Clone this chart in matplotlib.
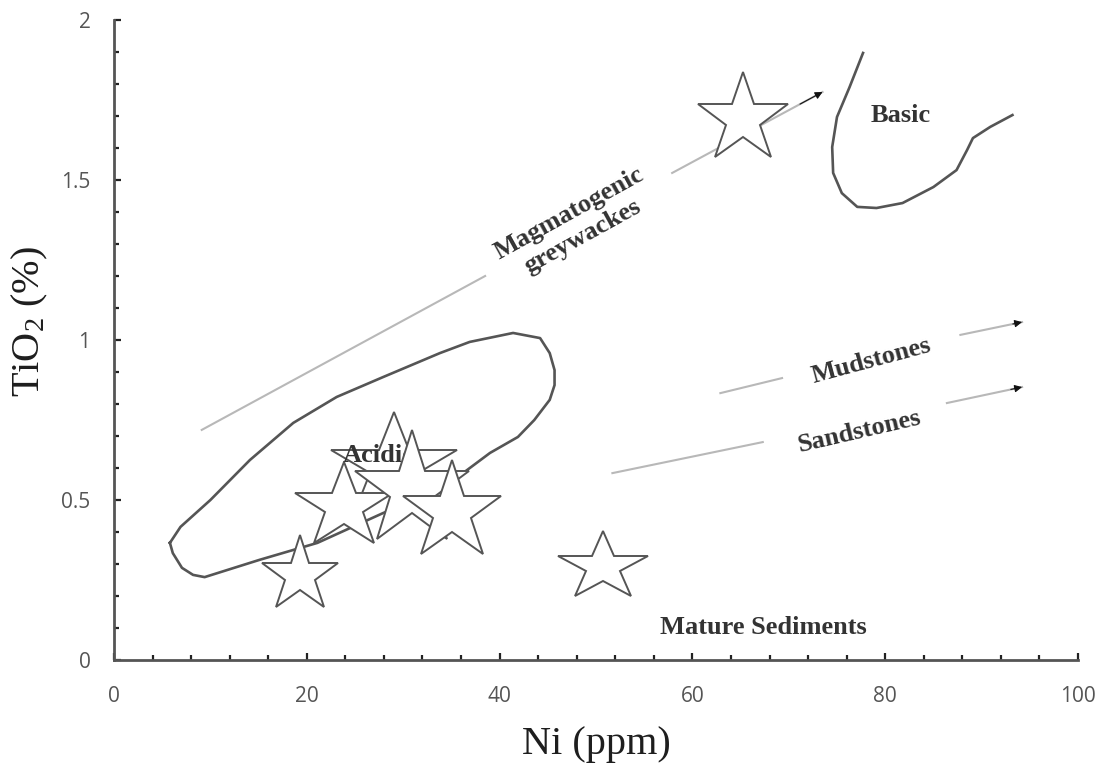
import matplotlib
matplotlib.use("Agg")
import matplotlib.pyplot as plt
from matplotlib.markers import MarkerStyle
from matplotlib.transforms import Affine2D
from matplotlib.ticker import MultipleLocator

# samples plotted as stars (Ni ppm, TiO2 %)
ni_samples = [65.2, 50.7, 19.3, 29.0, 30.9, 23.9, 35.1]
tio2_samples = [1.69, 0.29, 0.266, 0.603, 0.53, 0.478, 0.4625]

# field boundaries
acid_ni = [5.8, 6.1, 7.05, 8.2, 9.4, 15.1, 21.1, 27.9, 33.1, 36.2, 39.0, 41.9,
           43.6, 45.2, 45.7, 45.7, 45.2, 44.2, 41.4, 36.9, 33.8, 27.9, 23.1,
           18.6, 14.1, 10.0, 6.9, 5.8]
acid_ti = [0.366, 0.334, 0.288, 0.266, 0.259, 0.313, 0.366, 0.459, 0.522,
           0.584, 0.647, 0.697, 0.75, 0.813, 0.859, 0.906, 0.959, 1.006,
           1.022, 0.994, 0.959, 0.884, 0.822, 0.741, 0.625, 0.50, 0.416, 0.366]
basic_ni = [77.7, 76.3, 75.0, 74.5, 74.6, 75.5, 77.1, 79.1, 81.8, 85.0, 87.4,
            88.5, 89.1, 90.9, 93.2]
basic_ti = [1.897, 1.79, 1.697, 1.603, 1.522, 1.459, 1.416, 1.4125, 1.428,
            1.478, 1.531, 1.594, 1.631, 1.666, 1.703]

# trend arrows: (start, gap start), (gap end, tip)
magma_ni = [9.1, 38.5, 57.9, 73.5]
magma_ti = [0.719, 1.2, 1.522, 1.775]
mud_ni = [62.9, 69.3, 87.8, 94.2]
mud_ti = [0.834, 0.881, 1.016, 1.056]
sand_ni = [51.7, 67.3, 86.4, 94.2]
sand_ti = [0.584, 0.681, 0.803, 0.853]

# star outer radius in pixels and horizontal stretch
star_r = [47, 36, 40, 55, 60, 45, 52]
star_sx = [1.0, 1.3, 1.0, 1.2, 1.0, 1.15, 1.0]
star_order = [0, 1, 2, 3, 5, 4, 6]

SERIF = "Liberation Serif"
plt.rcParams["mathtext.default"] = "regular"

fig = plt.figure(figsize=(10.99, 7.68), dpi=100)
ax = fig.add_axes([114 / 1099, 108 / 768, 964 / 1099, 640 / 768])
ax.set_xlim(0, 100)
ax.set_ylim(0, 2)

for side in ("top", "right"):
    ax.spines[side].set_visible(False)
for side in ("left", "bottom"):
    ax.spines[side].set_color("#555555")
    ax.spines[side].set_linewidth(2.0)

ax.xaxis.set_major_locator(MultipleLocator(20))
ax.xaxis.set_minor_locator(MultipleLocator(4))
ax.yaxis.set_major_locator(MultipleLocator(0.5))
ax.yaxis.set_minor_locator(MultipleLocator(0.1))
ax.yaxis.set_major_formatter(plt.FuncFormatter(lambda v, p: "{:g}".format(v)))
ax.tick_params(which="both", direction="in", color="#222222", width=1.6)
ax.tick_params(which="major", length=5)
ax.tick_params(which="minor", length=3.5)
ax.tick_params(axis="x", which="major", pad=19)
ax.tick_params(axis="y", which="major", pad=17)
for lab in ax.get_xticklabels() + ax.get_yticklabels():
    lab.set_fontfamily("Open Sans")
    lab.set_fontsize(15)
    lab.set_color("#555555")

ax.set_xlabel("Ni (ppm)", fontsize=29, family=SERIF, color="#1e1e1e")
ax.xaxis.set_label_coords(0.5, -0.103)
ax.set_ylabel("TiO$_2$ (%)", fontsize=29, family=SERIF, color="#1e1e1e")
ax.yaxis.set_label_coords(-0.066, 0.528)

# field outlines
ax.plot(acid_ni, acid_ti, color="#555555", lw=1.9, zorder=2)
ax.plot(basic_ni, basic_ti, color="#555555", lw=1.9, zorder=2)

# trend arrows
for xs, ys in ((magma_ni, magma_ti), (mud_ni, mud_ti), (sand_ni, sand_ti)):
    ax.plot(xs[:2], ys[:2], color="#b8b8b8", lw=1.5, zorder=1)
    ax.plot(xs[2:], ys[2:], color="#b8b8b8", lw=1.5, zorder=1)
    ax.annotate("", xy=(xs[3], ys[3]),
                xytext=(xs[3] - (xs[3] - xs[2]) * 0.15,
                        ys[3] - (ys[3] - ys[2]) * 0.15),
                arrowprops=dict(arrowstyle="-|>", color="#111111", lw=0.8,
                                mutation_scale=11, shrinkA=0, shrinkB=0),
                zorder=3)

txt = dict(family=SERIF, fontsize=19, color="#333333", fontweight="bold")
ax.text(47.9, 1.36, "Magmatogenic\ngreywackes", rotation=29,
        rotation_mode="anchor", ha="center", va="center",
        multialignment="center", linespacing=1.2, **txt)
ax.text(78.5, 0.934, "Mudstones", rotation=15, rotation_mode="anchor",
        ha="center", va="center", **txt)
ax.text(77.3, 0.7125, "Sandstones", rotation=13, rotation_mode="anchor",
        ha="center", va="center", **txt)
ax.text(81.6, 1.70, "Basic", ha="center", va="center", **txt)
ax.text(67.4, 0.103, "Mature Sediments", ha="center", va="center", **txt)
ax.text(23.75, 0.619, "Acidic", ha="left", va="baseline", zorder=8.5, **txt)

# sample stars
for k, i in enumerate(star_order):
    marker = MarkerStyle("*", joinstyle="miter",
                         transform=Affine2D().scale(star_sx[i], 1.0))
    ax.plot(ni_samples[i], tio2_samples[i], ls="none", marker=marker,
            ms=1.44 * star_r[i], mfc="white", mec="#555555", mew=1.4,
            zorder=5 + k)

fig.savefig("out.png", dpi=100)
